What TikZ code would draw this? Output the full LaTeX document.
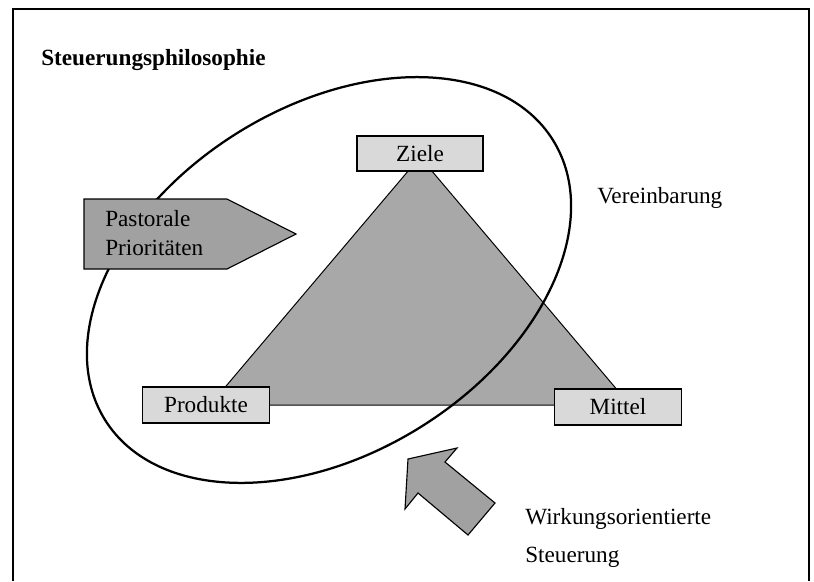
\documentclass[tikz,border=0pt]{standalone}
\usepackage{fontspec}
\setmainfont{Liberation Serif}
\usepackage{xcolor}
\usetikzlibrary{positioning}
\definecolor{boxgray}{gray}{0.85}
\definecolor{trigray}{gray}{0.66}
\definecolor{arrowgray}{gray}{0.63}
\tikzset{
  corner/.style={draw,rectangle,fill=boxgray,line width=0.8pt,
    minimum width=3.175cm,minimum height=0.9cm,inner sep=0pt},
  txt/.style={font=\fontsize{16.5}{20}\selectfont,inner sep=0pt,align=left},
}

\begin{document}
\begin{tikzpicture}[x=0.025cm, y=-0.025cm]
  \useasboundingbox (0,0) rectangle (814,581);

  % Frame
  \draw[line width=1pt] (13,581) -- (13,9) -- (809,9) -- (809,581);
  \node[txt,font=\fontsize{16.5}{20}\selectfont\bfseries,anchor=base west] (title) at (41,65) {Steuerungsphilosophie};

  % Triangle
  \coordinate (top) at (420,157);
  \coordinate (left) at (210,405);
  \coordinate (right) at (630,405);
  \draw[fill=trigray,line width=0.7pt] (top) -- (left) -- (right) -- cycle;

  % Ellipse
  \draw[line width=1.6pt,rotate around={32:(329,280)}] (329,280) ellipse [x radius=6.6cm, y radius=4.33cm];

  % Corners
  \node[corner,minimum width=3.15cm,minimum height=0.875cm] (ziele) at (420,153.5) {\fontsize{16.5}{20}\selectfont Ziele};
  \node[corner] (produkte) at (206,405) {\fontsize{16.5}{20}\selectfont Produkte};
  \node[corner] (mittel) at (618,407) {\fontsize{16.5}{20}\selectfont Mittel};

  % Pastorale Prioritaeten
  \draw[fill=arrowgray,line width=0.8pt] (84,199) -- (227,199) -- (296,234) -- (227,269) -- (84,269) -- cycle;
  \node[txt,anchor=west,font=\fontsize{16.5}{21}\selectfont] (prio) at (105,233) {Pastorale\\Prioritäten};

  % Big arrow
  \draw[fill=arrowgray,line width=0.8pt] (408,459) -- (457,448) -- (445,462) -- (495,503)
    -- (468,535) -- (418,493) -- (405,509) -- cycle;

  % Labels
  \node[txt,anchor=base west] (verein) at (597,203) {Vereinbarung};
  \node[txt,anchor=west,font=\fontsize{16.5}{27}\selectfont] (wirk) at (525,538) {Wirkungsorientierte\\Steuerung};
\end{tikzpicture}
\end{document}
